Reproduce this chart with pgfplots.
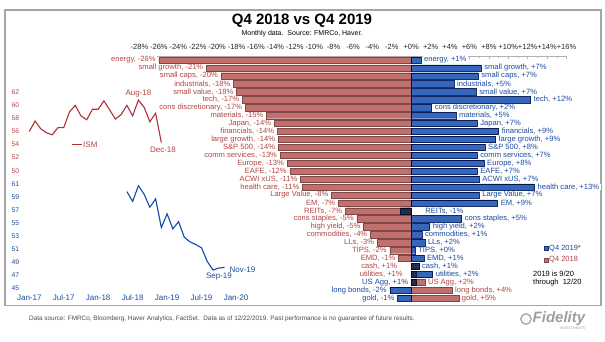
\documentclass[border=0pt]{standalone}
\usepackage{fontspec}
\setmainfont{Liberation Sans}
\usepackage{pgfplots}
\pgfplotsset{compat=1.18}
\usepackage{pgfplotstable}

\definecolor{rbar}{RGB}{193,112,110}
\definecolor{rbardraw}{RGB}{125,72,72}
\definecolor{bbar}{RGB}{52,102,188}
\definecolor{bbardraw}{RGB}{28,52,110}
\definecolor{rtext}{RGB}{176,70,68}
\definecolor{btext}{RGB}{26,76,160}
\definecolor{rline}{RGB}{176,48,54}
\definecolor{bline}{RGB}{22,72,170}

\pgfplotstableread{
row red blue
0 -26.0 1.0
-1 -21.1 7.2
-2 -19.6 6.9
-3 -18.3 4.4
-4 -18.0 6.7
-5 -17.4 12.3
-6 -17.1 2.1
-7 -14.9 4.6
-8 -14.1 6.8
-9 -13.8 9.0
-10 -13.7 8.7
-11 -13.7 7.6
-12 -13.5 6.8
-13 -12.8 7.5
-14 -12.5 6.8
-15 -11.4 7.0
-16 -11.2 12.7
-17 -8.2 7.0
-18 -7.5 8.9
-19 -6.8 -1.1
-20 -5.6 5.2
-21 -4.9 1.9
-22 -4.2 1.1
-23 -3.5 1.4
-24 -2.2 0.4
-25 -1.3 1.3
-26 0.8 0.8
-27 0.5 2.2
-28 1.4 0.5
-29 4.2 -2.2
-30 4.9 -1.4
}\bardata

\pgfplotstableread{
m v
0 56.0
1 57.6
2 56.4
3 55.8
4 55.5
5 56.6
6 56.6
7 59.0
8 60.0
9 58.4
10 57.8
11 59.4
12 59.4
13 60.7
14 59.3
15 57.9
16 58.6
17 60.0
18 58.4
19 60.8
20 59.7
21 57.5
22 58.8
23 54.3
}\ismred

\pgfplotstableread{
m v
17 59.8
18 58.3
19 60.7
20 59.4
21 57.4
22 58.7
23 54.3
24 56.4
25 54.1
26 55.2
27 52.8
28 52.1
29 51.7
30 51.2
31 49.1
32 47.8
33 48.1
34 48.2
}\ismblue

\tikzset{lab/.style={fill=white, inner xsep=1.5pt, inner ysep=0.2pt, font=\fontsize{7.6}{8}\selectfont}}
\newcommand{\labL}[4]{\node[lab, anchor=east, text=#1, xshift=-1.5pt] at (axis cs:#2,#3) {#4};}
\newcommand{\labR}[4]{\node[lab, anchor=west, text=#1, xshift=1.5pt] at (axis cs:#2,#3) {#4};}

\begin{document}
\begin{tikzpicture}
\useasboundingbox (0,0) rectangle (605pt,-341pt);
\fill[white] (0,0) rectangle (605pt,-341pt);
\draw[black!35, line width=1.2pt] (5pt,-10pt) rectangle (601pt,-305.5pt);

\node[font=\bfseries\fontsize{15}{16}\selectfont] at (302pt,-20.5pt) {Q4 2018 vs Q4 2019};
\node[font=\fontsize{7}{8}\selectfont] at (302pt,-34pt) {Monthly data.\ \ Source: FMRCo, Haver.};

% ---------- bar chart ----------
\begin{axis}[
  scale only axis, width=427pt, height=246.2pt,
  at={(139.5pt,-302.2pt)}, anchor=south west,
  xmin=-28, xmax=16, ymin=-30.5, ymax=0.5,
  hide y axis, axis x line*=top,
  x axis line style={black!30, line width=0.6pt},
  xtick={-28,-26,...,16},
  xticklabels={-28\%,-26\%,-24\%,-22\%,-20\%,-18\%,-16\%,-14\%,-12\%,-10\%,-8\%,-6\%,-4\%,-2\%,+0\%,+2\%,+4\%,+6\%,+8\%,+10\%,+12\%,+14\%,+16\%},
  minor x tick num=1,
  tick align=inside, major tick length=2.5pt, minor tick length=1.5pt,
  every tick/.style={black!30, line width=0.5pt},
  xticklabel style={font=\fontsize{7.5}{8}\selectfont, text=black!85, inner sep=1pt, yshift=5pt},
  clip=false,
  xbar, bar width=6.3pt, bar shift=0pt,
]
\addplot[fill=rbar, draw=rbardraw, line width=0.4pt] table[x=red,y=row]{\bardata};
\addplot[fill=bbar, draw=bbardraw, line width=0.4pt, blend mode=multiply] table[x=blue,y=row]{\bardata};

\labL{rtext}{-26.0}{0}{energy, -26\%}
\labL{rtext}{-21.1}{-1}{small growth, -21\%}
\labL{rtext}{-19.6}{-2}{small caps, -20\%}
\labL{rtext}{-18.3}{-3}{industrials, -18\%}
\labL{rtext}{-18.0}{-4}{small value, -18\%}
\labL{rtext}{-17.4}{-5}{tech, -17\%}
\labL{rtext}{-17.1}{-6}{cons discretionary, -17\%}
\labL{rtext}{-14.9}{-7}{materials, -15\%}
\labL{rtext}{-14.1}{-8}{Japan, -14\%}
\labL{rtext}{-13.8}{-9}{financials, -14\%}
\labL{rtext}{-13.7}{-10}{large growth, -14\%}
\labL{rtext}{-13.7}{-11}{S\&P 500, -14\%}
\labL{rtext}{-13.5}{-12}{comm services, -13\%}
\labL{rtext}{-12.8}{-13}{Europe, -13\%}
\labL{rtext}{-12.5}{-14}{EAFE, -12\%}
\labL{rtext}{-11.4}{-15}{ACWI xUS, -11\%}
\labL{rtext}{-11.2}{-16}{health care, -11\%}
\labL{rtext}{-8.2}{-17}{Large Value, -8\%}
\labL{rtext}{-7.5}{-18}{EM, -7\%}
\labL{rtext}{-6.8}{-19}{REITs, -7\%}
\labL{rtext}{-5.6}{-20}{cons staples, -5\%}
\labL{rtext}{-4.9}{-21}{high yield, -5\%}
\labL{rtext}{-4.2}{-22}{commodities, -4\%}
\labL{rtext}{-3.5}{-23}{LLs, -3\%}
\labL{rtext}{-2.2}{-24}{TIPS, -2\%}
\labL{rtext}{-1.3}{-25}{EMD, -1\%}
\labL{rtext}{-1.13}{-26}{cash, +1\%}
\labL{rtext}{-0.55}{-27}{utilities, +1\%}
\labR{rtext}{1.4}{-28}{US Agg, +2\%}
\labR{rtext}{4.2}{-29}{long bonds, +4\%}
\labR{rtext}{4.9}{-30}{gold, +5\%}

\labR{btext}{1.0}{0}{energy, +1\%}
\labR{btext}{7.2}{-1}{small growth, +7\%}
\labR{btext}{6.9}{-2}{small caps, +7\%}
\labR{btext}{4.4}{-3}{industrials, +5\%}
\labR{btext}{6.7}{-4}{small value, +7\%}
\labR{btext}{12.3}{-5}{tech, +12\%}
\labR{btext}{2.1}{-6}{cons discretionary, +2\%}
\labR{btext}{4.6}{-7}{materials, +5\%}
\labR{btext}{6.8}{-8}{Japan, +7\%}
\labR{btext}{9.0}{-9}{financials, +9\%}
\labR{btext}{8.7}{-10}{large growth, +9\%}
\labR{btext}{7.6}{-11}{S\&P 500, +8\%}
\labR{btext}{6.8}{-12}{comm services, +7\%}
\labR{btext}{7.5}{-13}{Europe, +8\%}
\labR{btext}{6.8}{-14}{EAFE, +7\%}
\labR{btext}{7.0}{-15}{ACWI xUS, +7\%}
\labR{btext}{12.7}{-16}{health care, +13\%}
\labR{btext}{7.0}{-17}{Large Value, +7\%}
\labR{btext}{8.9}{-18}{EM, +9\%}
\labR{btext}{1.13}{-19}{REITs, -1\%}
\labR{btext}{5.2}{-20}{cons staples, +5\%}
\labR{btext}{1.9}{-21}{high yield, +2\%}
\labR{btext}{1.1}{-22}{commodities, +1\%}
\labR{btext}{1.4}{-23}{LLs, +2\%}
\labR{btext}{0.4}{-24}{TIPS, +0\%}
\labR{btext}{1.3}{-25}{EMD, +1\%}
\labR{btext}{0.8}{-26}{cash, +1\%}
\labR{btext}{2.2}{-27}{utilities, +2\%}
\labL{btext}{0.0}{-28}{US Agg, +1\%}
\labL{btext}{-2.2}{-29}{long bonds, -2\%}
\labL{btext}{-1.4}{-30}{gold, -1\%}
\end{axis}

% ---------- ISM line chart: Q4 2018 (red) ----------
\begin{axis}[
  scale only axis, width=206.7pt, height=196pt,
  at={(29.3pt,-288.3pt)}, anchor=south west,
  xmin=0, xmax=36, ymin=32, ymax=62,
  axis line style={draw=none}, major tick length=0pt,
  ytick={50,52,...,62},
  xtick={0,6,...,36},
  xticklabels={Jan-17,Jul-17,Jan-18,Jul-18,Jan-19,Jul-19,Jan-20},
  /pgf/number format/assume math mode=true,
  yticklabel style={text=rtext, font=\fontsize{6.8}{7}\selectfont, xshift=-6.5pt},
  xticklabel style={text=btext, font=\fontsize{8}{9}\selectfont, yshift=-3pt},
  clip=false,
]
\addplot[rline, line width=1.1pt, mark=none] table[x=m,y=v]{\ismred};
\end{axis}

% ---------- ISM line chart: Q4 2019 (blue) ----------
\begin{axis}[
  scale only axis, width=206.7pt, height=196pt,
  at={(29.3pt,-288.3pt)}, anchor=south west,
  xmin=0, xmax=36, ymin=45, ymax=75,
  axis line style={draw=none}, major tick length=0pt,
  ytick={45,47,...,61}, xtick=\empty,
  /pgf/number format/assume math mode=true,
  yticklabel style={text=btext, font=\fontsize{6.8}{7}\selectfont, xshift=-6.5pt},
  clip=false,
]
\addplot[bline, line width=1.1pt, mark=none] table[x=m,y=v]{\ismblue};
\end{axis}

% annotations
\node[text=rtext, font=\fontsize{8}{9}\selectfont] at (138.5pt,-94pt) {Aug-18};
\node[text=rtext, font=\fontsize{8}{9}\selectfont] at (163pt,-150pt) {Dec-18};
\draw[rline, line width=0.8pt] (71.7pt,-144.3pt) -- (81.7pt,-144.3pt);
\node[text=rtext, font=\fontsize{8}{9}\selectfont, anchor=west, inner sep=0.5pt] at (82.5pt,-144.3pt) {ISM};
\node[text=btext, font=\fontsize{8}{9}\selectfont] at (242.5pt,-269.3pt) {Nov-19};
\node[text=btext, font=\fontsize{8}{9}\selectfont] at (219pt,-276.5pt) {Sep-19};

% legend
\filldraw[fill=bbar, draw=bbardraw, line width=0.4pt] (544pt,-250.5pt) rectangle (548pt,-246.5pt);
\node[text=btext, font=\fontsize{7.5}{8}\selectfont, anchor=west, inner sep=0.5pt] at (548.5pt,-248.5pt) {Q4 2019*};
\filldraw[fill=rbar, draw=rbardraw, line width=0.4pt] (544pt,-262pt) rectangle (548pt,-258pt);
\node[text=rtext, font=\fontsize{7.5}{8}\selectfont, anchor=west, inner sep=0.5pt] at (548.5pt,-260pt) {Q4 2018};
\node[font=\fontsize{7.5}{8}\selectfont, anchor=west, inner sep=0.5pt] at (532.5pt,-274.3pt) {2019 is 9/20};
\node[font=\fontsize{7.5}{8}\selectfont, anchor=west, inner sep=0.5pt] at (532.5pt,-282.5pt) {through\ \ 12/20};

% footer
\node[font=\fontsize{6.4}{7}\selectfont, text=black!70, anchor=west, inner sep=0pt] at (29pt,-318.5pt) {Data source: FMRCo, Bloomberg, Haver Analytics, FactSet.\ \ Data as of 12/22/2019. Past performance is no guarantee of future results.};
\draw[black!35, line width=1.3pt] (526pt,-319pt) circle (5.2pt);
\node[font=\bfseries\itshape\fontsize{15}{15}\selectfont, text=black!38, anchor=west, inner sep=0pt] at (532.5pt,-318.5pt) {Fidelity};
\node[font=\fontsize{3.5}{4}\selectfont, text=black!38, anchor=west, inner sep=0pt] at (560pt,-328pt) {INVESTMENTS};
\end{tikzpicture}
\end{document}
